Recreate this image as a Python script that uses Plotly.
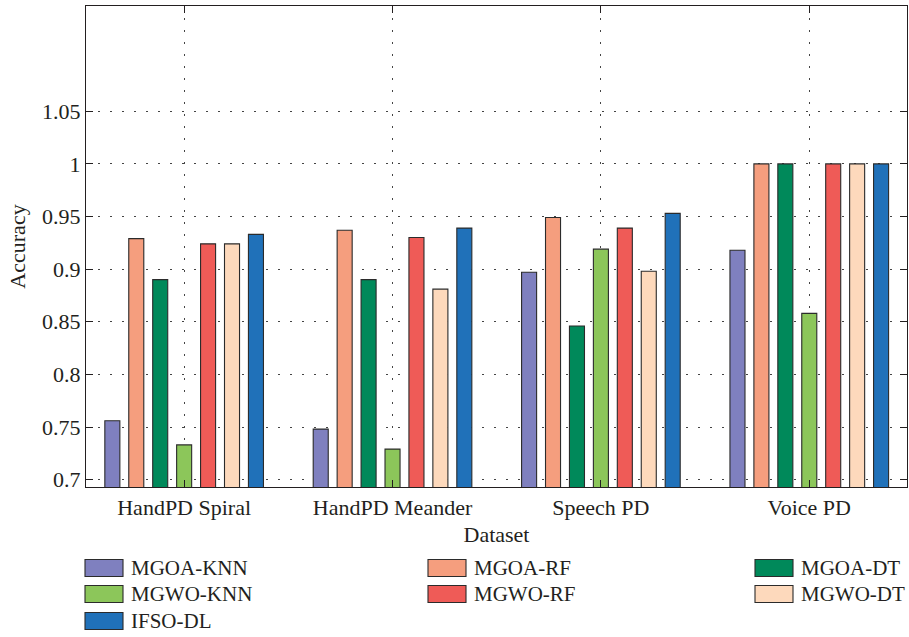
import plotly.graph_objects as go

# Datasets on the x axis
datasets = ["HandPD Spiral", "HandPD Meander", "Speech PD", "Voice PD"]

# Accuracy per method, in dataset order
mgoa_knn = [0.756, 0.748, 0.897, 0.918]
mgoa_rf = [0.929, 0.937, 0.949, 1.000]
mgoa_dt = [0.890, 0.890, 0.846, 1.000]
mgwo_knn = [0.733, 0.729, 0.919, 0.858]
mgwo_rf = [0.924, 0.930, 0.939, 1.000]
mgwo_dt = [0.924, 0.881, 0.898, 1.000]
ifso_dl = [0.933, 0.939, 0.953, 1.000]

series_names = ["MGOA-KNN", "MGOA-RF", "MGOA-DT", "MGWO-KNN", "MGWO-RF", "MGWO-DT", "IFSO-DL"]
series_values = [mgoa_knn, mgoa_rf, mgoa_dt, mgwo_knn, mgwo_rf, mgwo_dt, ifso_dl]
series_colors = ["#7f80bf", "#f59e7e", "#00895a", "#8cc65a", "#ef5b57", "#fdd9bc", "#2071b9"]

y_ticks = [0.7, 0.75, 0.8, 0.85, 0.9, 0.95, 1.0, 1.05]
y_tick_labels = ["0.7", "0.75", "0.8", "0.85", "0.9", "0.95", "1", "1.05"]

FONT = "Liberation Serif"
TEXT = "#231f20"
W, H = 909, 637
ML, MR, MT, MB = 86, 2, 6, 150
PW, PH = W - ML - MR, H - MT - MB

fig = go.Figure()
for name, vals, col in zip(series_names, series_values, series_colors):
    fig.add_trace(go.Bar(
        name=name, x=datasets, y=vals,
        marker=dict(color=col, line=dict(color="#2b2b2b", width=1.1)),
        showlegend=False,
    ))

# Legend drawn below the axes: three columns of wide swatches
col_x = [85, 428, 755]
row_y = [568, 594, 621]
sw_w, sw_h = 38, 17


def px_x(v):
    return (v - ML) / PW


def px_y(v):
    return (H - MB - v) / PH


shapes = []
annotations = []
for i, (name, col) in enumerate(zip(series_names, series_colors)):
    cx = col_x[i % 3]
    cy = row_y[i // 3]
    shapes.append(dict(
        type="rect", xref="paper", yref="paper",
        x0=px_x(cx), x1=px_x(cx + sw_w),
        y0=px_y(cy + sw_h / 2), y1=px_y(cy - sw_h / 2),
        fillcolor=col, line=dict(color="#2b2b2b", width=1.1),
    ))
    annotations.append(dict(
        xref="paper", yref="paper", x=px_x(cx + sw_w + 6), y=px_y(cy),
        xanchor="left", yanchor="middle", showarrow=False,
        text=name, font=dict(family=FONT, size=21, color=TEXT),
    ))

grid_dash = "2px,10px"
axis_font = dict(family=FONT, size=22, color=TEXT)
fig.update_layout(
    width=W, height=H,
    margin=dict(l=ML, r=MR, t=MT, b=MB),
    paper_bgcolor="white", plot_bgcolor="white",
    barmode="group", bargap=0.196, bargroupgap=0.372,
    font=dict(family=FONT, size=22, color=TEXT),
    shapes=shapes, annotations=annotations,
    xaxis=dict(
        range=[-0.471, 3.469],
        showline=True, linecolor="#231f20", linewidth=1.2, mirror="ticks",
        ticks="inside", ticklen=7, tickcolor="#231f20",
        showgrid=True, gridcolor="#444444", gridwidth=1.2, griddash=grid_dash,
        tickfont=axis_font,
        title=dict(text="Dataset", standoff=8, font=axis_font),
        zeroline=False,
    ),
    yaxis=dict(
        range=[0.693, 1.15],
        tickvals=y_ticks, ticktext=y_tick_labels,
        showline=True, linecolor="#231f20", linewidth=1.2, mirror="ticks",
        ticks="inside", ticklen=7, tickcolor="#231f20",
        showgrid=True, gridcolor="#444444", gridwidth=1.2, griddash=grid_dash,
        tickfont=axis_font,
        title=dict(text="Accuracy", standoff=10, font=axis_font),
        zeroline=False,
    ),
)

fig.write_html("out.html")
